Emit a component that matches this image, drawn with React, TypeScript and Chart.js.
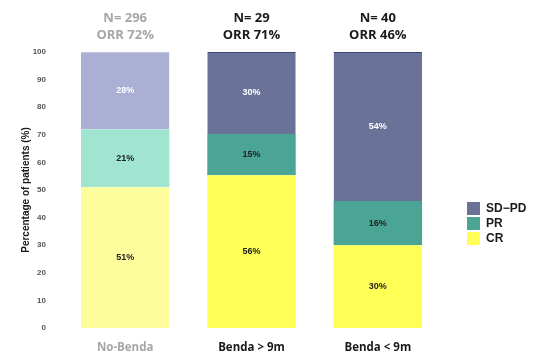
import React, { useEffect, useRef } from "react";
import { Chart, registerables } from "chart.js";

Chart.register(...registerables);

const categories = ["No-Benda", "Benda > 9m", "Benda < 9m"];
const headerN = ["N= 296", "N= 29", "N= 40"];
const headerORR = ["ORR 72%", "ORR 71%", "ORR 46%"];
const crValues = [51, 55.3, 30];
const prValues = [21, 15, 16];
const sdpdValues = [28, 29.7, 54];
const crLabels = ["51%", "56%", "30%"];
const prLabels = ["21%", "15%", "16%"];
const sdpdLabels = ["28%", "30%", "54%"];
const yTicks = [0, 10, 20, 30, 40, 50, 60, 70, 80, 90, 100];

const GREY = "#a6a6a6";
const TEXT = "#1a1a1a";
const catColor = ["#a6a6a6", "#1a1a1a", "#1a1a1a"];

const crColors = ["#fdfd9e", "#ffff55", "#ffff55"];
const prColors = ["#a1e5d1", "#4ba594", "#4ba594"];
const sdColors = ["#abafd3", "#6b7298", "#6b7298"];

const overlayPlugin = {
  id: "overlay",
  afterDatasetsDraw(chart: any) {
    const ctx = chart.ctx;
    const labelSets = [crLabels, prLabels, sdpdLabels];
    ctx.save();
    ctx.textAlign = "center";
    ctx.textBaseline = "middle";
    ctx.font = "bold 9px 'Liberation Sans', Arial, sans-serif";
    chart.data.datasets.forEach((ds: any, di: number) => {
      const meta = chart.getDatasetMeta(di);
      meta.data.forEach((bar: any, i: number) => {
        const top = Math.max(bar.y, chart.chartArea.top);
        const cy = (top + bar.base) / 2;
        ctx.fillStyle = di === 2 ? "#ffffff" : "#222222";
        ctx.fillText(labelSets[di][i], bar.x, cy);
      });
    });
    ctx.restore();
  },
  afterDraw(chart: any) {
    const ctx = chart.ctx;
    const xs = chart.scales.x;
    ctx.save();
    ctx.textAlign = "center";
    ctx.textBaseline = "middle";
    ctx.font = "bold 13px 'Open Sans', sans-serif";
    categories.forEach((_c, i) => {
      const x = xs.getPixelForValue(i);
      ctx.fillStyle = i === 0 ? GREY : TEXT;
      ctx.fillText(headerN[i], x, 18);
      ctx.fillText(headerORR[i], x, 35);
    });
    // legend
    const items = [...chart.data.datasets].reverse();
    ctx.textAlign = "left";
    ctx.font = "bold 12px 'Liberation Sans', Arial, sans-serif";
    items.forEach((ds: any, k: number) => {
      const y = 202 + k * 15;
      ctx.fillStyle = ds.legendColor;
      ctx.fillRect(467, y, 13, 13);
      ctx.fillStyle = TEXT;
      ctx.fillText(ds.label, 486, y + 7);
    });
    ctx.restore();
  },
};

export default function App() {
  const ref = useRef<HTMLCanvasElement | null>(null);
  useEffect(() => {
    if (!ref.current) return;
    const chart = new Chart(ref.current, {
      type: "bar",
      data: {
        labels: categories,
        datasets: [
          { label: "CR", data: crValues, backgroundColor: crColors, legendColor: "#ffff55", borderWidth: 0 } as any,
          { label: "PR", data: prValues, backgroundColor: prColors, legendColor: "#4ba594", borderWidth: 0 } as any,
          {
            label: "SD\u2212PD",
            data: sdpdValues,
            backgroundColor: sdColors,
            legendColor: "#6b7298",
            borderColor: ["#c4c7e0", "#3d4578", "#3d4578"],
            borderWidth: { top: 1, left: 0, right: 0, bottom: 0 },
            borderSkipped: false,
          } as any,
        ],
      },
      options: {
        animation: false,
        responsive: false,
        maintainAspectRatio: false,
        layout: { padding: { top: 52, right: 96, left: 0, bottom: 0 } },
        plugins: { legend: { display: false }, tooltip: { enabled: false } },
        datasets: { bar: { barPercentage: 0.7, categoryPercentage: 1 } },
        scales: {
          x: {
            stacked: true,
            grid: { display: false, drawTicks: false },
            border: { display: false },
            ticks: {
              padding: 13,
              color: (c: any) => catColor[c.index] ?? TEXT,
              font: { family: "'Open Sans', sans-serif", size: 11.5, weight: "bold" },
            },
            afterFit: (s: any) => {
              s.height = 32;
            },
          },
          y: {
            stacked: true,
            min: 0,
            max: 100,
            afterBuildTicks: (s: any) => {
              s.ticks = yTicks.map((v) => ({ value: v }));
            },
            grid: { display: false, drawTicks: false },
            border: { display: false },
            ticks: {
              padding: 16,
              color: "#555555",
              font: { family: "'Liberation Sans', Arial, sans-serif", size: 8, weight: "bold" },
            },
            title: {
              display: true,
              text: "Percentage of patients (%)",
              color: TEXT,
              padding: { top: 20, bottom: 0 },
              font: { family: "'Liberation Sans', Arial, sans-serif", size: 10, weight: "bold" },
            },
            afterFit: (s: any) => {
              s.width = 62;
            },
          },
        },
      },
      plugins: [overlayPlugin],
    });
    return () => chart.destroy();
  }, []);
  return (
    <div style={{ position: "fixed", left: 0, top: 0, width: 537, height: 360, background: "#fff" }}>
      <canvas ref={ref} width={537} height={360} style={{ width: 537, height: 360 }} />
    </div>
  );
}
